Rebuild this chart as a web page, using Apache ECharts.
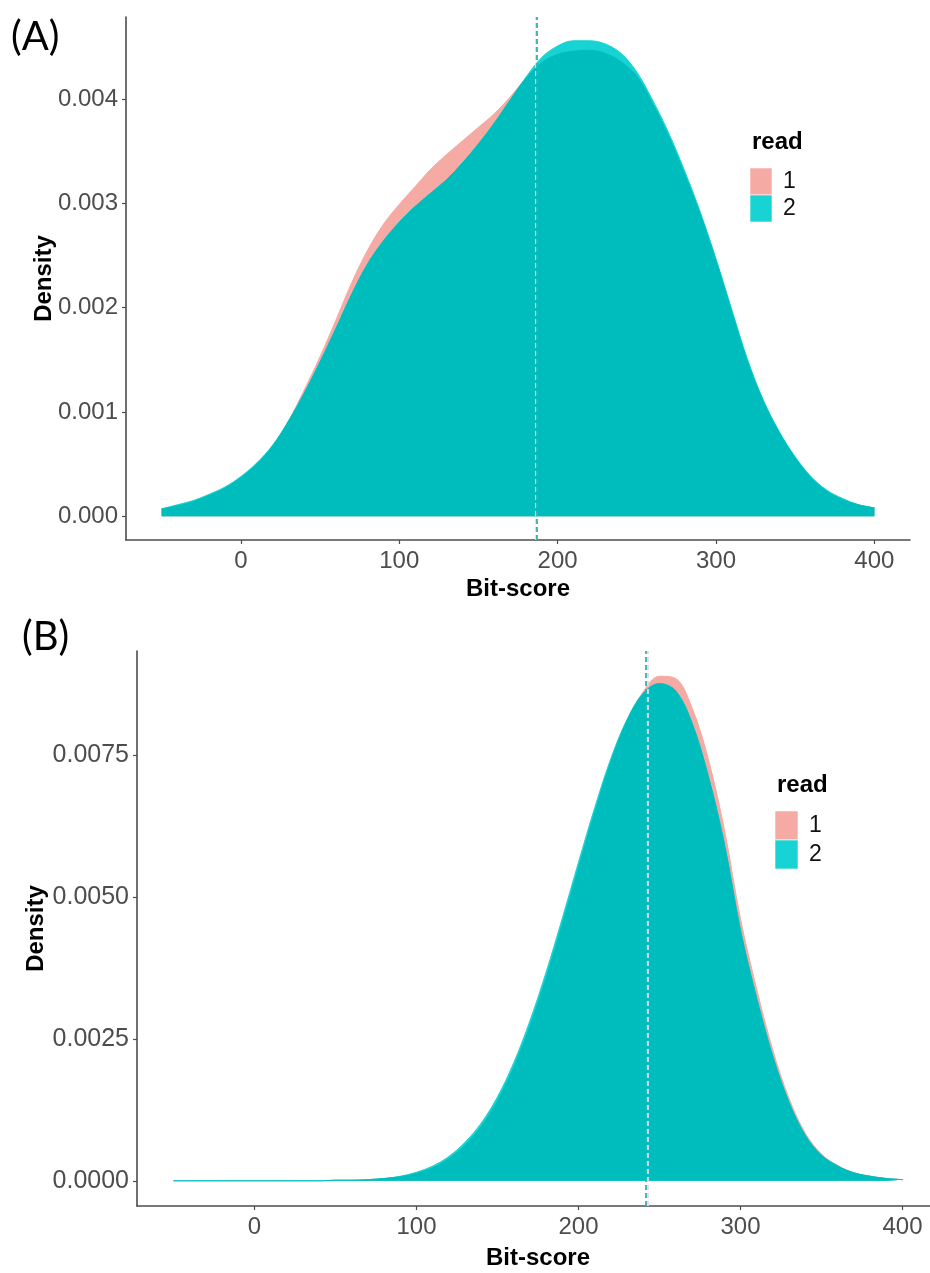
<!DOCTYPE html>
<html>
<head>
<meta charset="utf-8">
<script src="https://cdn.jsdelivr.net/npm/echarts@6/dist/echarts.min.js"></script>
<style>
  html, body { margin: 0; padding: 0; background: #ffffff; }
  #chart { width: 930px; height: 1273px; }
</style>
</head>
<body>
<div id="chart"></div>
<script>
// Bit-score grid on which both kernel density estimates are evaluated
const BIT_SCORE = [-50, -40, -30, -20, -10, 0, 10, 20, 30, 40, 50, 60, 70, 80, 90, 100,
  110, 120, 130, 140, 150, 160, 170, 180, 190, 200, 210, 220, 230, 240, 250, 260, 270,
  280, 290, 300, 310, 320, 330, 340, 350, 360, 370, 380, 390, 400];

// Densities in units of 1e-3
const A_READ1 = [0.07, 0.10, 0.14, 0.20, 0.27, 0.37, 0.50, 0.67, 0.91, 1.21, 1.53, 1.88,
  2.24, 2.55, 2.80, 2.99, 3.16, 3.33, 3.47, 3.60, 3.73, 3.86, 4.02, 4.20, 4.35, 4.43,
  4.46, 4.47, 4.44, 4.36, 4.22, 3.96, 3.65, 3.29, 2.90, 2.45, 1.96, 1.48, 1.10, 0.80,
  0.56, 0.37, 0.24, 0.16, 0.11, 0.08];
const A_READ2 = [0.07, 0.11, 0.15, 0.21, 0.28, 0.38, 0.51, 0.68, 0.91, 1.18, 1.48, 1.80,
  2.13, 2.42, 2.64, 2.82, 2.97, 3.10, 3.23, 3.39, 3.57, 3.77, 3.99, 4.21, 4.40, 4.51,
  4.56, 4.56, 4.53, 4.44, 4.26, 3.99, 3.68, 3.32, 2.92, 2.47, 1.98, 1.50, 1.11, 0.81,
  0.57, 0.38, 0.25, 0.17, 0.11, 0.08];
const B_READ1 = [0.00, 0.00, 0.00, 0.00, 0.00, 0.00, 0.00, 0.00, 0.00, 0.00, 0.01, 0.01,
  0.02, 0.04, 0.07, 0.13, 0.23, 0.39, 0.63, 0.96, 1.41, 2.00, 2.73, 3.58, 4.53, 5.52,
  6.50, 7.40, 8.12, 8.63, 8.90, 8.86, 8.35, 7.45, 6.20, 4.62, 3.38, 2.30, 1.45, 0.84,
  0.47, 0.27, 0.14, 0.08, 0.04, 0.02];
const B_READ2 = [0.00, 0.00, 0.00, 0.00, 0.00, 0.00, 0.00, 0.00, 0.00, 0.00, 0.01, 0.01,
  0.02, 0.04, 0.08, 0.15, 0.26, 0.43, 0.68, 1.02, 1.48, 2.08, 2.82, 3.68, 4.63, 5.62,
  6.58, 7.45, 8.14, 8.60, 8.77, 8.64, 8.08, 7.15, 5.95, 4.42, 3.22, 2.19, 1.38, 0.80,
  0.45, 0.26, 0.14, 0.08, 0.04, 0.02];

// Mean bit-score per read: [read 1, read 2]
const A_MEANS = [186, 187];
const B_MEANS = [242.8, 241.8];

// Tick labels
const X_TICKS = [0, 100, 200, 300, 400];
const A_Y_TICKS = [0, 0.001, 0.002, 0.003, 0.004];
const B_Y_TICKS = [0, 0.0025, 0.005, 0.0075];
const READS = ['1', '2'];

const UNIT = 1e-3;
const COL_READ1 = '#f5aaa4';
const COL_READ2 = '#17d3d3';
const COL_BOTH = '#00bdbd';
const MEAN_COLS = ['#e6d6de', '#2fb2b7'];
const AXIS_COL = '#4d4d4d';
const FONT = '"Liberation Sans", Arial, Helvetica, sans-serif';
const PANEL_FONT = '40px Lato, "Open Sans", sans-serif';

function pairs(ys) {
  return BIT_SCORE.map((x, i) => [x, ys[i] * UNIT]);
}
function lower(a, b) {
  return a.map((v, i) => Math.min(v, b[i]));
}
function extent(a, b) {
  const m = Math.max(Math.max.apply(null, a), Math.max.apply(null, b)) * UNIT;
  return [-0.05 * m, 1.05 * m];
}

function xAxis(grid, fs, gap) {
  return {
    gridIndex: grid, type: 'value', min: -72.5, max: 422.5,
    axisLine: { show: true, onZero: false, lineStyle: { color: AXIS_COL, width: 1.6 } },
    axisTick: { show: true, length: 4, customValues: X_TICKS, lineStyle: { color: AXIS_COL, width: 1.2 } },
    axisLabel: { customValues: X_TICKS, color: AXIS_COL, fontSize: fs, fontFamily: FONT, margin: 9 },
    splitLine: { show: false },
    name: 'Bit-score', nameLocation: 'middle', nameGap: gap, nameMoveOverlap: false,
    nameTextStyle: { fontWeight: 'bold', fontSize: 24, color: '#000', fontFamily: FONT }
  };
}
function yAxis(grid, ticks, ext, digits, fs, gap) {
  return {
    gridIndex: grid, type: 'value', min: ext[0], max: ext[1],
    axisLine: { show: true, onZero: false, lineStyle: { color: AXIS_COL, width: 1.6 } },
    axisTick: { show: true, length: 4, customValues: ticks, lineStyle: { color: AXIS_COL, width: 1.2 } },
    axisLabel: {
      customValues: ticks, color: AXIS_COL, fontSize: fs, fontFamily: FONT, margin: 8,
      formatter: v => v.toFixed(digits)
    },
    splitLine: { show: false },
    name: 'Density', nameLocation: 'middle', nameGap: gap, nameMoveOverlap: false,
    nameTextStyle: { fontWeight: 'bold', fontSize: 24, color: '#000', fontFamily: FONT }
  };
}
function densitySeries(grid, name, ys, color, z) {
  return {
    name: name, type: 'line', xAxisIndex: grid, yAxisIndex: grid, data: pairs(ys),
    smooth: 0.35, symbol: 'none', z: z, silent: true,
    lineStyle: { color: color, width: 1 },
    itemStyle: { color: color },
    areaStyle: { color: color, opacity: 1, origin: 0 }
  };
}
function overlapSeries(grid, r1, r2, means) {
  return {
    name: 'both', type: 'line', xAxisIndex: grid, yAxisIndex: grid,
    data: pairs(lower(r1, r2)), smooth: 0.35, symbol: 'none', z: 4, silent: true,
    lineStyle: { color: COL_BOTH, width: 0.8 },
    areaStyle: { color: COL_BOTH, opacity: 1, origin: 0 },
    markLine: {
      symbol: 'none', silent: true, label: { show: false }, animation: false,
      data: means.map((m, i) => ({
        xAxis: m,
        lineStyle: { color: MEAN_COLS[i], type: [5, 3], width: 1.8 }
      }))
    }
  };
}
function legendGraphic(left, top, keyW, keyH) {
  const cols = [COL_READ1, COL_READ2];
  const els = [{
    type: 'text', left: left + 2, top: top - 38,
    style: { text: 'read', font: 'bold 24px ' + FONT, fill: '#000' }
  }];
  READS.forEach((r, i) => {
    els.push({
      type: 'rect', shape: { x: left, y: top + i * keyH, width: keyW, height: keyH },
      style: { fill: cols[i], stroke: '#ffffff', lineWidth: 0.6 }
    });
    els.push({
      type: 'text', x: left + keyW + 11, y: top + i * keyH + keyH / 2,
      style: { text: r, font: '23px ' + FONT, fill: '#111', textVerticalAlign: 'middle' }
    });
  });
  return els;
}

const aExt = extent(A_READ1, A_READ2);
const bExt = extent(B_READ1, B_READ2);

const chart = echarts.init(document.getElementById('chart'), null, { renderer: 'canvas' });
chart.setOption({
  animation: false,
  backgroundColor: '#ffffff',
  grid: [
    { left: 126, width: 784, top: 17, height: 523, containLabel: false, outerBoundsMode: 'none' },
    { left: 137, width: 802, top: 651, height: 555, containLabel: false, outerBoundsMode: 'none' }
  ],
  xAxis: [xAxis(0, 24, 37), xAxis(1, 24, 40)],
  yAxis: [yAxis(0, A_Y_TICKS, aExt, 3, 24, 70), yAxis(1, B_Y_TICKS, bExt, 4, 25, 89)],
  series: [
    densitySeries(0, READS[0], A_READ1, COL_READ1, 2),
    densitySeries(0, READS[1], A_READ2, COL_READ2, 3),
    overlapSeries(0, A_READ1, A_READ2, A_MEANS),
    densitySeries(1, READS[0], B_READ1, COL_READ1, 2),
    densitySeries(1, READS[1], B_READ2, COL_READ2, 3),
    overlapSeries(1, B_READ1, B_READ2, B_MEANS)
  ],
  graphic: [
    { type: 'text', left: 11, top: 17, style: { text: '(A)', font: PANEL_FONT, fill: '#000' } },
    { type: 'text', left: 22, top: 617, style: { text: '(B)', font: PANEL_FONT, fill: '#000' } }
  ].concat(legendGraphic(750, 168, 22, 27), legendGraphic(775, 811, 23, 29))
});
</script>
</body>
</html>
